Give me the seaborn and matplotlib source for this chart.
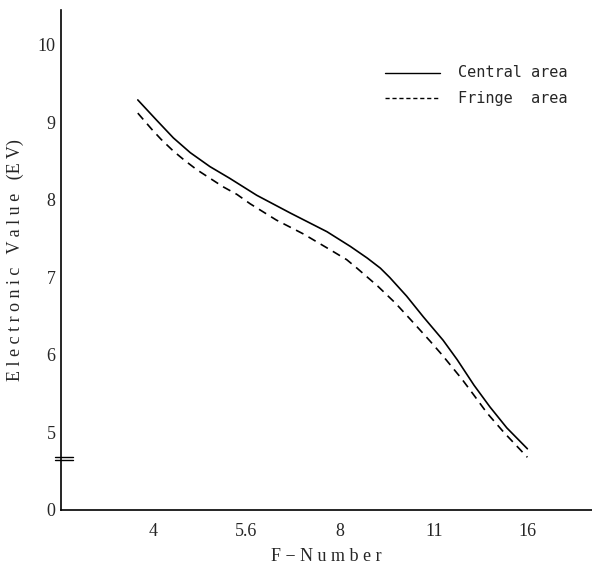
import numpy as np
import pandas as pd
import matplotlib
matplotlib.use("Agg")
import matplotlib.pyplot as plt
import seaborn as sns

# F-number ticks, placed one stop apart
f_numbers = ["4", "5.6", "8", "11", "16"]
stop_pos = [0, 1, 2, 3, 4]

# y ticks: bottom of the (broken) axis is labelled 0
y_tick_vals = [4.0, 5, 6, 7, 8, 9, 10]
y_tick_labels = ["0", "5", "6", "7", "8", "9", "10"]

# curves (x in stops from f/4)
central_x = [-0.16, 0.04, 0.22, 0.40, 0.61, 0.82, 1.11, 1.47, 1.86, 2.11, 2.29,
             2.43, 2.53, 2.71, 2.89, 3.10, 3.25, 3.43, 3.60, 3.78, 4.00]
central_y = [9.29, 9.03, 8.80, 8.61, 8.43, 8.28, 8.06, 7.83, 7.59, 7.40, 7.25,
             7.12, 7.00, 6.76, 6.49, 6.19, 5.94, 5.61, 5.33, 5.06, 4.79]
fringe_x = [-0.16, -0.01, 0.09, 0.22, 0.34, 0.47, 0.61, 0.75, 0.90, 1.04, 1.32,
            1.61, 1.89, 2.07, 2.18, 2.40, 2.59, 2.75, 2.96, 3.09, 3.30, 3.43,
            3.57, 3.75, 4.00]
fringe_y = [9.12, 8.91, 8.78, 8.63, 8.51, 8.39, 8.28, 8.17, 8.07, 7.95, 7.74,
            7.56, 7.36, 7.23, 7.12, 6.89, 6.67, 6.46, 6.18, 6.00, 5.69, 5.48,
            5.25, 5.00, 4.68]

df = pd.concat([
    pd.DataFrame({"stop": central_x, "ev": central_y, "area": "Central area"}),
    pd.DataFrame({"stop": fringe_x, "ev": fringe_y, "area": "Fringe  area"}),
])

sns.set_theme(style="white")
plt.rcParams["font.family"] = ["Liberation Serif", "DejaVu Serif"]

fig = plt.figure(figsize=(5.92, 5.72), dpi=100)
ax = fig.add_axes([61 / 592, 62 / 572, 1 - 61 / 592, 500 / 572])

sns.lineplot(data=df, x="stop", y="ev", hue="area", style="area",
             palette=["black", "black"], dashes=[(None, None), (5, 3.5)],
             linewidth=1.2, sort=False, ax=ax, legend=False)

ax.set_xlim(-0.98, 4.69)
ax.set_ylim(4.0, 10.45)
ax.set_xticks(stop_pos)
ax.set_xticklabels(f_numbers, fontsize=13)
ax.set_yticks(y_tick_vals)
ax.set_yticklabels(y_tick_labels, fontsize=13)
ax.tick_params(direction="in", length=5, width=1, color="black", pad=4)
ax.tick_params(axis="x", pad=9)

for s in ["top", "right"]:
    ax.spines[s].set_visible(False)
for s in ["left", "bottom"]:
    ax.spines[s].set_color("black")
    ax.spines[s].set_linewidth(1.2)

# axis break marks on the y axis
ax.plot([0, 0], [4.64, 4.69], transform=ax.get_yaxis_transform(),
        color="white", lw=2.5, clip_on=False)
for yb in [4.64, 4.69]:
    ax.plot([-0.011, 0.023], [yb, yb], transform=ax.get_yaxis_transform(),
            color="black", lw=1, clip_on=False)

ax.set_xlabel("F − N u m b e r", fontsize=13, labelpad=6)
ax.set_ylabel("E l e c t r o n i c   V a l u e   (E V)", fontsize=13, labelpad=10)

# legend drawn by hand to mimic the original
for yy, lbl, ls in [(9.64, "Central area", "-"), (9.31, "Fringe  area", (0, (3, 2)))]:
    ax.plot([2.48, 3.07], [yy, yy], color="black", lw=1, ls=ls)
    ax.text(3.26, yy, lbl, fontsize=11, va="center", family="DejaVu Sans Mono")

fig.savefig("out.png", dpi=100)
